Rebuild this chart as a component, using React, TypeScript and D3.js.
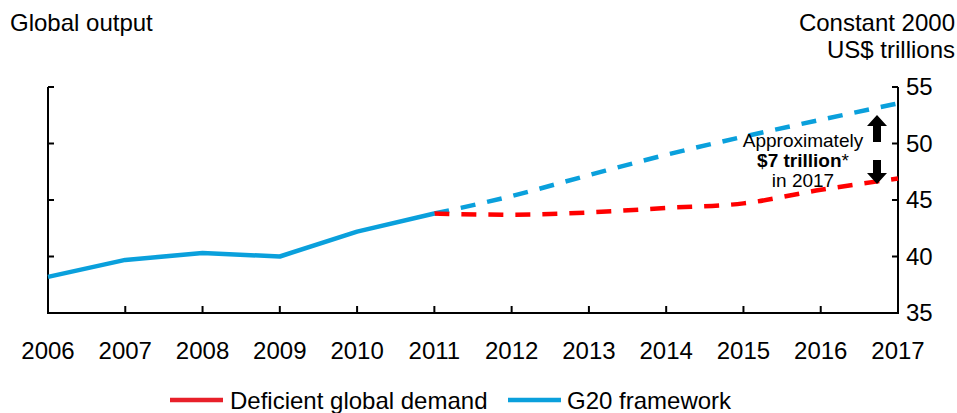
import React, { useEffect, useRef } from "react";
import * as d3 from "d3";

// Years shown on the x axis
const years = [2006, 2007, 2008, 2009, 2010, 2011, 2012, 2013, 2014, 2015, 2016, 2017];

// Historical output (both scenarios share it)
const historyYears = [2006, 2007, 2008, 2009, 2010, 2011];
const historyValues = [38.2, 39.7, 40.3, 40.0, 42.2, 43.8];

// Projections from 2011
const projectionYears = [2011, 2012, 2013, 2014, 2015, 2016, 2017];
const deficientValues = [43.8, 43.7, 43.9, 44.3, 44.7, 45.9, 46.9];
const g20Values = [43.8, 45.35, 47.2, 49.0, 50.6, 52.1, 53.55];

const yTicks = [35, 40, 45, 50, 55];

const red = "#ff0000";
const legendRed = "#e8202a";
const blue = "#0aa0dc";
const font = "'Liberation Sans', Arial, sans-serif";

export default function App() {
  const ref = useRef<SVGSVGElement>(null);

  useEffect(() => {
    const svg = d3.select(ref.current);
    svg.selectAll("*").remove();

    const left = 48,
      right = 898,
      top = 87,
      bottom = 313;

    const x = d3.scaleLinear().domain([2006, 2017]).range([left, right]);
    const y = d3.scaleLinear().domain([35, 55]).range([bottom, top]);

    // Titles
    svg
      .append("text")
      .attr("x", 10)
      .attr("y", 31)
      .attr("font-size", 24)
      .attr("font-family", font)
      .text("Global output");
    svg
      .append("text")
      .attr("x", 955)
      .attr("y", 31)
      .attr("text-anchor", "end")
      .attr("font-size", 24)
      .attr("font-family", font)
      .text("Constant 2000");
    svg
      .append("text")
      .attr("x", 955)
      .attr("y", 58)
      .attr("text-anchor", "end")
      .attr("font-size", 24)
      .attr("font-family", font)
      .text("US$ trillions");

    // Axes frame
    const axes = svg.append("g").attr("stroke", "black").attr("stroke-width", 2);
    axes.append("line").attr("x1", left).attr("x2", left).attr("y1", top).attr("y2", bottom);
    axes.append("line").attr("x1", right).attr("x2", right).attr("y1", top).attr("y2", bottom);
    axes.append("line").attr("x1", left - 1).attr("x2", right + 1).attr("y1", bottom).attr("y2", bottom);

    // Y ticks, inward on both sides
    yTicks.forEach((t) => {
      axes.append("line").attr("x1", left).attr("x2", left + 6).attr("y1", y(t)).attr("y2", y(t));
      axes.append("line").attr("x1", right - 6).attr("x2", right).attr("y1", y(t)).attr("y2", y(t));
      svg
        .append("text")
        .attr("x", 906)
        .attr("y", y(t) + 8)
        .attr("font-size", 24)
        .attr("font-family", font)
        .text(t);
    });

    // X ticks and labels
    years.forEach((yr) => {
      if (yr !== 2006 && yr !== 2017) {
        axes.append("line").attr("x1", x(yr)).attr("x2", x(yr)).attr("y1", bottom).attr("y2", bottom - 7);
      }
      svg
        .append("text")
        .attr("x", x(yr))
        .attr("y", 359)
        .attr("text-anchor", "middle")
        .attr("font-size", 24)
        .attr("font-family", font)
        .text(yr);
    });

    const line = d3
      .line<[number, number]>()
      .x((d) => x(d[0]))
      .y((d) => y(d[1]));
    const curve = d3
      .line<[number, number]>()
      .x((d) => x(d[0]))
      .y((d) => y(d[1]))
      .curve(d3.curveMonotoneX);

    const zip = (xs: number[], vs: number[]) => xs.map((v, i) => [v, vs[i]] as [number, number]);

    // Projections
    svg
      .append("path")
      .attr("d", curve(zip(projectionYears, g20Values)))
      .attr("fill", "none")
      .attr("stroke", blue)
      .attr("stroke-width", 4.5)
      .attr("stroke-dasharray", "15,12");
    svg
      .append("path")
      .attr("d", curve(zip(projectionYears, deficientValues)))
      .attr("fill", "none")
      .attr("stroke", red)
      .attr("stroke-width", 4.5)
      .attr("stroke-dasharray", "15,12");

    // History
    svg
      .append("path")
      .attr("d", line(zip(historyYears, historyValues)))
      .attr("fill", "none")
      .attr("stroke", blue)
      .attr("stroke-width", 4.5)
      .attr("stroke-linejoin", "round");

    // Gap arrows
    const ax = 877;
    const arrow = (tipY: number, baseY: number) => {
      const dir = tipY < baseY ? 1 : -1;
      const headY = tipY + dir * 11;
      const pts = [
        [ax, tipY],
        [ax + 10, headY],
        [ax + 4, headY],
        [ax + 4, baseY],
        [ax - 4, baseY],
        [ax - 4, headY],
        [ax - 10, headY],
      ];
      svg.append("polygon").attr("points", pts.map((p) => p.join(",")).join(" ")).attr("fill", "black");
    };
    arrow(115, 142);
    arrow(184, 160);

    // Annotation
    const note = svg
      .append("text")
      .attr("text-anchor", "middle")
      .attr("font-size", 19)
      .attr("font-family", font);
    note.append("tspan").attr("x", 803).attr("y", 147).text("Approximately");
    const l2 = note.append("tspan").attr("x", 803).attr("y", 167);
    l2.append("tspan").attr("font-weight", "bold").text("$7 trillion");
    l2.append("tspan").text("*");
    note.append("tspan").attr("x", 803).attr("y", 187).text("in 2017");

    // Legend
    const legend = [
      { label: "Deficient global demand", color: legendRed, x: 170, tx: 230 },
      { label: "G20 framework", color: blue, x: 508, tx: 567 },
    ];
    legend.forEach((l) => {
      svg
        .append("line")
        .attr("x1", l.x)
        .attr("x2", l.x + 53)
        .attr("y1", 400)
        .attr("y2", 400)
        .attr("stroke", l.color)
        .attr("stroke-width", 4.5);
      svg
        .append("text")
        .attr("x", l.tx)
        .attr("y", 409)
        .attr("font-size", 24)
        .attr("font-family", font)
        .text(l.label);
    });
  }, []);

  return (
    <svg
      ref={ref}
      width={957}
      height={413}
      style={{ position: "absolute", left: 0, top: 0, background: "white" }}
    ></svg>
  );
}
